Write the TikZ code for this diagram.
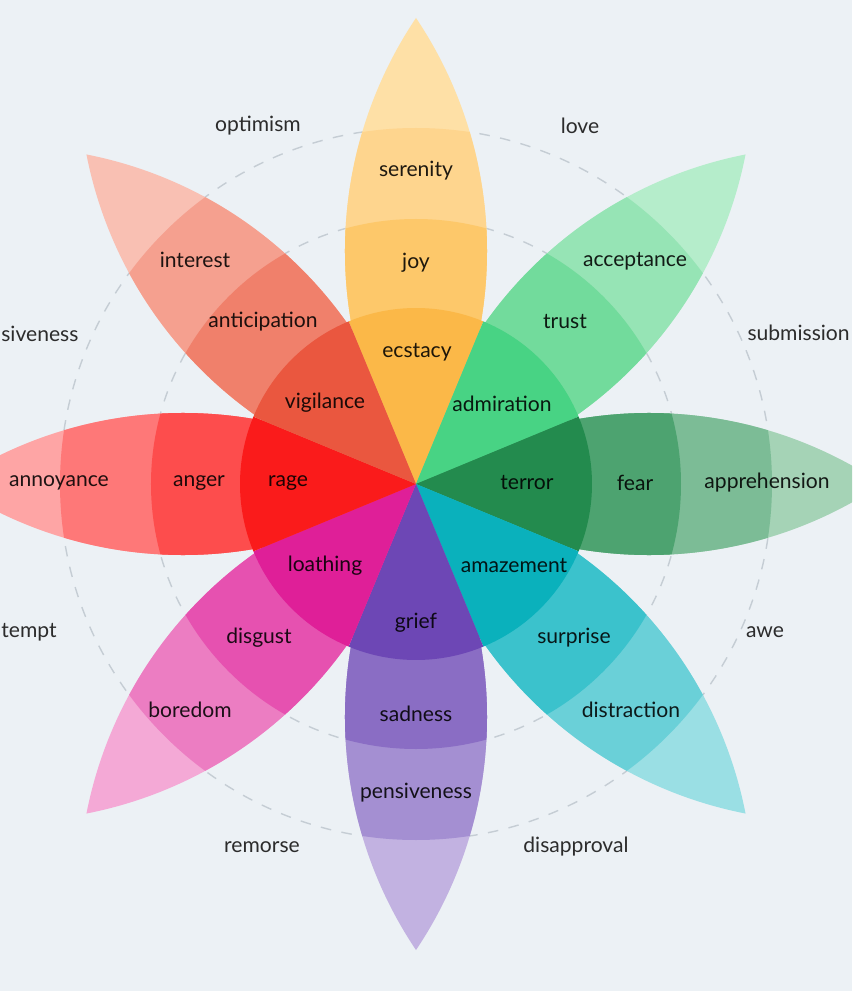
\documentclass[tikz,border=0pt]{standalone}
\usepackage{fontspec}
\setmainfont{Lato}
\definecolor{bg}{HTML}{ECF1F5}
\definecolor{guidec}{HTML}{C5CDD4}
\definecolor{txt}{HTML}{2C2C2C}
% joy
\definecolor{joyA}{HTML}{FEE0A6}\definecolor{joyB}{HTML}{FED58E}\definecolor{joyC}{HTML}{FDC86A}\definecolor{joyD}{HTML}{FBB848}
% trust
\definecolor{truA}{HTML}{B5EDCB}\definecolor{truB}{HTML}{96E4B5}\definecolor{truC}{HTML}{72DB9C}\definecolor{truD}{HTML}{48D384}
% fear
\definecolor{feaA}{HTML}{A5D3B6}\definecolor{feaB}{HTML}{7CBC96}\definecolor{feaC}{HTML}{4DA370}\definecolor{feaD}{HTML}{238B4E}
% surprise
\definecolor{surA}{HTML}{9ADFE4}\definecolor{surB}{HTML}{6AD0D8}\definecolor{surC}{HTML}{3BC2CC}\definecolor{surD}{HTML}{0AB1BC}
% sadness
\definecolor{sadA}{HTML}{C2B2E1}\definecolor{sadB}{HTML}{A48FD2}\definecolor{sadC}{HTML}{8A6DC4}\definecolor{sadD}{HTML}{6D47B5}
% disgust
\definecolor{disA}{HTML}{F4A9D6}\definecolor{disB}{HTML}{EC7DC2}\definecolor{disC}{HTML}{E651B0}\definecolor{disD}{HTML}{DF1F98}
% anger
\definecolor{angA}{HTML}{FEA5A5}\definecolor{angB}{HTML}{FE7878}\definecolor{angC}{HTML}{FD4D4D}\definecolor{angD}{HTML}{FA1B1B}
% anticipation
\definecolor{antA}{HTML}{F9C0B3}\definecolor{antB}{HTML}{F5A08F}\definecolor{antC}{HTML}{F0806B}\definecolor{antD}{HTML}{EA573F}
\tikzset{
  lbl/.style={font=\fontsize{12}{14}\selectfont, text=black, text opacity=0.88, inner sep=0pt},
  olbl/.style={font=\fontsize{12}{14}\selectfont, text=txt, inner sep=0pt},
  guide/.style={draw=guidec, line width=0.8pt, dash pattern=on 6pt off 6pt},
}
\begin{document}
\begin{tikzpicture}[x=0.2mm,y=0.2mm]
\useasboundingbox (-416,-507) rectangle (436,484);
\clip (-416,-507) rectangle (436,484);
\fill[bg] (-416,-507) rectangle (436,484);
% guide circles
\draw[guide] (0,0) circle[radius=265];
\draw[guide] (0,0) circle[radius=356];
% petals
\foreach \a/\ca/\cb/\cc in {90/joyA/joyB/joyC, 45/truA/truB/truC, 0/feaA/feaB/feaC, -45/surA/surB/surC, -90/sadA/sadB/sadC, -135/disA/disB/disC, 180/angA/angB/angC, 135/antA/antB/antC}{
  \begin{scope}[rotate=\a]
    \clip (0,0) arc[start angle=123.9, end angle=56.1, radius=417.8]
          arc[start angle=-56.1, end angle=-123.9, radius=417.8] -- cycle;
    \fill[\ca] (0,0) circle[radius=480];
    \fill[\cb] (0,0) circle[radius=356];
    \fill[\cc] (0,0) circle[radius=265];
  \end{scope}
}
% central pie
\foreach \a/\cd in {90/joyD, 45/truD, 0/feaD, -45/surD, -90/sadD, -135/disD, 180/angD, 135/antD}{
  \fill[\cd] (0,0) -- (\a-22.5:176) arc[start angle=\a-22.5, end angle=\a+22.5, radius=176] -- cycle;
}
% inner labels
\node[lbl] (serenity) at (0,313) {serenity};
\node[lbl] (joy) at (0,221) {joy};
\node[lbl] (ecstacy) at (1,132) {ecstacy};
\node[lbl] (acceptance) at (219,223) {acceptance};
\node[lbl] (trust) at (149,162) {trust};
\node[lbl] (admiration) at (86,80) {admiration};
\node[lbl] (apprehension) at (351,1) {apprehension};
\node[lbl] (fear) at (219,1) {fear};
\node[lbl] (terror) at (111,1) {terror};
\node[lbl] (distraction) at (215,-226) {distraction};
\node[lbl] (surprise) at (158,-154) {surprise};
\node[lbl] (amazement) at (98,-82) {amazement};
\node[lbl] (pensiveness) at (0,-309) {pensiveness};
\node[lbl] (sadness) at (0,-230) {sadness};
\node[lbl] (grief) at (0,-139) {grief};
\node[lbl] (boredom) at (-226,-226) {boredom};
\node[lbl] (disgust) at (-157,-154) {disgust};
\node[lbl] (loathing) at (-91,-82) {loathing};
\node[lbl] (annoyance) at (-357,1) {annoyance};
\node[lbl] (anger) at (-217,1) {anger};
\node[lbl] (rage) at (-128,1) {rage};
\node[lbl] (interest) at (-221,224) {interest};
\node[lbl] (anticipation) at (-153,162) {anticipation};
\node[lbl] (vigilance) at (-91,81) {vigilance};
% outer labels
\node[olbl] (optimism) at (-158,358) {optimism};
\node[olbl] (love) at (164,358) {love};
\node[olbl, anchor=west] (aggr) at (-415,150) {siveness};
\node[olbl, anchor=east] (submission) at (434,151) {submission};
\node[olbl, anchor=west] (contempt) at (-415,-148) {tempt};
\node[olbl] (awe) at (349,-148) {awe};
\node[olbl] (remorse) at (-154,-363) {remorse};
\node[olbl] (disapproval) at (160,-363) {disapproval};
\end{tikzpicture}
\end{document}
